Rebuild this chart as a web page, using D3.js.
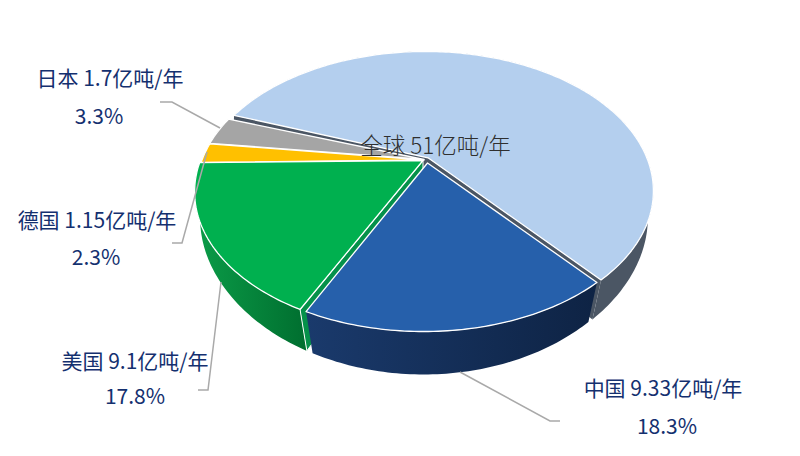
<!DOCTYPE html>
<html><head><meta charset="utf-8">
<script src="https://cdn.jsdelivr.net/npm/d3@7"></script>
<style>html,body{margin:0;padding:0;background:#fff}svg{display:block}</style></head>
<body><svg id="c" width="800" height="456"></svg>
<script>
const categories = ["中国","美国","德国","日本","其他"];
const amounts = ["9.33","9.1","1.15","1.7",""];
const shares = [18.3,17.8,2.3,3.3,58.3];
const topColors = ["#2660ab","#00b04f","#ffc000","#a5a5a5","#b4cfee"];
const wallFrom = ["#1a3a6c","#0b9c48","#997300","#636363","#4b5664"];
const wallTo = ["#0e2344","#006e2f","#997300","#636363","#4b5664"];
const centerTitle = "全球 51亿吨/年";

const svg = d3.select("#c");
const defs = svg.append("defs");
const cx = 425, cy = 160, a = 132.4, b = 222, k = 0.2258;
const line = d3.line();
const rad = d3.scaleLinear().domain([0,360]).range([0,2*Math.PI]);
const pie = d3.pie().sort(null).startAngle(rad(139)).endAngle(rad(139+360));
const arcs = pie(shares);

// slice displacement: rim offset, apex offset, and trim of the leading edge
const shift = [[-1.5,0.5],[-2.5,0.3],[-1,0],[-1,-0.5],[0.5,-0.5]];
const apexShift = [[2.5,3],[-2,0.5],[-1,0],[-1,-0.5],[3,-2.2]];
const trim = [0.7,1.2,0,0,2].map(v=>rad(v));

function topP(t,o){ const X=Math.sin(t), Y=-Math.cos(t), d=1-k*Y;
  return [cx+o[0]+b*X/d, cy+o[1]+a*Y/d]; }
function botP(t,o){ const X=Math.sin(t), Y=-Math.cos(t), d=1-k*Y;
  const y=a*Y/d;
  return [cx+o[0]+(0.985-0.045*Y)*b*X/d, cy+o[1]+1.07*y+31]; }
function apexB(o){ return [cx+o[0], cy+o[1]+31]; }
function arcPts(f,s,e,o){ const n=Math.max(6,Math.round((e-s)*60));
  return d3.range(n+1).map(i=>f(s+(e-s)*i/n,o)); }

function grad(i,x0,x1){ const id="g"+i;
  const g=defs.append("linearGradient").attr("id",id).attr("gradientUnits","userSpaceOnUse")
    .attr("x1",x0).attr("x2",x1).attr("y1",0).attr("y2",0);
  g.append("stop").attr("offset",0).attr("stop-color",wallFrom[i]);
  g.append("stop").attr("offset",1).attr("stop-color",wallTo[i]);
  return "url(#"+id+")"; }

function drawWall(i){ const d=arcs[i],o=shift[i],s=d.startAngle+trim[i];
  const t=arcPts(topP,s,d.endAngle,o), bt=arcPts(botP,s,d.endAngle,o);
  const xs=t.map(p=>p[0]).concat(bt.map(p=>p[0]));
  svg.append("path").attr("d",line(t.concat(bt.reverse()))+"Z")
    .attr("fill",grad(i,d3.min(xs),d3.max(xs)));
}
function drawRadial(i,angle,fill,stroke){ const o=shift[i],q=apexShift[i];
  const A=[cx+q[0],cy+q[1]];
  svg.append("path").attr("d",line([A,topP(angle,o),botP(angle,o),apexB(q)])+"Z")
    .attr("fill",fill).attr("stroke",stroke||"none").attr("stroke-width",1);
}
function drawTop(i){ const d=arcs[i],o=shift[i],q=apexShift[i];
  const pts=[[cx+q[0],cy+q[1]]].concat(arcPts(topP,d.startAngle+trim[i],d.endAngle,o));
  svg.append("path").attr("d",line(pts)+"Z").attr("fill",topColors[i])
    .attr("stroke","#fff").attr("stroke-width",1.3).attr("stroke-linejoin","round");
}
const leaders = [
 [[460,372],[550,421],[560,421]],
 [[221,282],[208,390],[198,390]],
 [[207,152],[182,243],[172,243]],
 [[220,128],[172,102],[160,102]]
];

drawWall(4);
drawRadial(4,arcs[4].startAngle+trim[4],"#4b5664");
drawRadial(4,arcs[4].endAngle,"#4b5664");
drawTop(4);
[3,2,1].forEach(drawWall);
drawRadial(1,arcs[1].startAngle+trim[1],"#05914a","#fff");
[3,2,1].forEach(drawTop);
drawWall(0);
drawTop(0);

svg.append("g").selectAll("path").data(leaders).join("path")
  .attr("d",d=>line(d)).attr("fill","none").attr("stroke","#a9a9a9").attr("stroke-width",1.5);

const font='"Noto Sans CJK SC","Noto Sans",sans-serif';
const labelPos=[[663,388,667,426],[135,361,135,396],[97,220,96,257],[110,78,99,116]];
const g=svg.append("g").attr("font-family",font).attr("font-size",21).attr("fill","#14306f").attr("text-anchor","middle");
labelPos.forEach((p,i)=>{
  g.append("text").attr("x",p[0]).attr("y",p[1]).attr("dy","0.36em").text(categories[i]+" "+amounts[i]+"亿吨/年");
  g.append("text").attr("x",p[2]).attr("y",p[3]).attr("dy","0.36em").text(shares[i].toFixed(1)+"%");
});
svg.append("text").attr("x",435.5).attr("y",146).attr("dy","0.36em").attr("text-anchor","middle")
  .attr("font-family",font).attr("font-size",22.5).attr("font-weight",300).attr("fill","#2f2f2f").text(centerTitle);
</script></body></html>
